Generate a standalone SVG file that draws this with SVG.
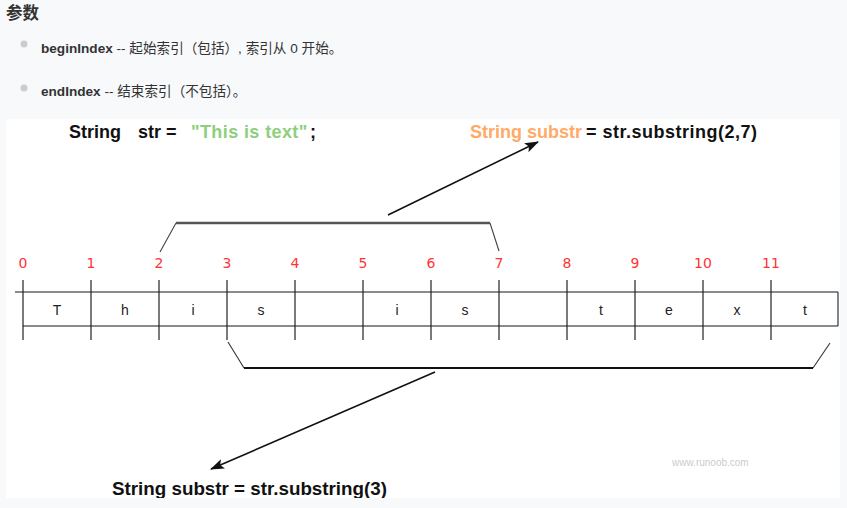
<svg xmlns="http://www.w3.org/2000/svg" width="847" height="508" viewBox="0 0 847 508">
<defs>
<style>
.pg{font-family:"Liberation Sans","Noto Sans CJK SC",sans-serif;fill:#333}
.code{font-family:"Liberation Sans",Arial,sans-serif;font-weight:bold;font-size:18px;fill:#111}
.green{fill:#8ecf7e}
.orange{fill:#ffaa66}
.idx{font-family:"DejaVu Sans","Liberation Sans",sans-serif;font-size:14px;fill:#ff3333;text-anchor:middle}
.ch{font-family:"Liberation Sans",Arial,sans-serif;font-size:14px;fill:#222;text-anchor:middle}
.tick{stroke:#222;stroke-width:1.2;fill:none}
.rail{stroke:#8a8a8a;stroke-width:2;fill:none}
.arrow{stroke:#111;stroke-width:1.6;fill:none;marker-end:url(#ah)}
</style>
<marker id="ah" markerUnits="userSpaceOnUse" markerWidth="14" markerHeight="10" refX="13" refY="5" orient="auto">
<path d="M0,0 L14,5 L0,10 L3,5 Z" fill="#111"/>
</marker>
<clipPath id="clipImg"><rect x="6" y="119" width="834" height="379"/></clipPath>
</defs>
<rect x="0" y="0" width="847" height="508" fill="#f8f9fb"/>
<g id="header">
<text class="pg" x="6" y="19" font-size="16.5" font-weight="bold">参数</text>
<circle cx="24" cy="44" r="3.5" fill="#cccccc"/>
<text class="pg" x="41" y="53" font-size="13.6"><tspan font-weight="bold">beginIndex</tspan> -- 起始索引（包括）, 索引从 0 开始。</text>
<circle cx="24" cy="88" r="3.5" fill="#cccccc"/>
<text class="pg" x="41" y="96" font-size="13.6"><tspan font-weight="bold">endIndex</tspan> -- 结束索引（不包括）。</text>
</g>
<rect x="6" y="119" width="834" height="379" fill="#ffffff"/>
<g id="diagram" clip-path="url(#clipImg)">
<g id="code-top">
<text class="code" x="69" y="138">String</text>
<text class="code" x="138" y="138">str =</text>
<text class="code green" x="191" y="138" letter-spacing="0.4">"This is text"</text>
<text class="code" x="310" y="138">;</text>
</g>
<g id="code-substr27">
<text class="code orange" x="470" y="138">String substr</text>
<text class="code" x="586" y="138" letter-spacing="0.5">= str.substring(2,7)</text>
</g>
<g id="code-substr3">
<text class="code" x="112" y="495" textLength="275" lengthAdjust="spacingAndGlyphs">String substr = str.substring(3)</text>
</g>
<g id="indices">
<text class="idx" x="23" y="268">0</text>
<text class="idx" x="91" y="268">1</text>
<text class="idx" x="159" y="268">2</text>
<text class="idx" x="227" y="268">3</text>
<text class="idx" x="295" y="268">4</text>
<text class="idx" x="363" y="268">5</text>
<text class="idx" x="431" y="268">6</text>
<text class="idx" x="499" y="268">7</text>
<text class="idx" x="567" y="268">8</text>
<text class="idx" x="635" y="268">9</text>
<text class="idx" x="703" y="268">10</text>
<text class="idx" x="771" y="268">11</text>
</g>
<g id="string-cells">
<path class="rail" d="M15,292 H838 M23,326 H838"/>
<path d="M838,292 V326" stroke="#333" stroke-width="1.2"/>
<path class="tick" d="M23,280V340 M91,280V340 M159,280V340 M227,280V340 M295,280V340 M363,280V340 M431,280V340 M499,280V340 M567,280V340 M635,280V340 M703,280V340 M771,280V340"/>
<text class="ch" x="57" y="315">T</text>
<text class="ch" x="125" y="315">h</text>
<text class="ch" x="193" y="315">i</text>
<text class="ch" x="261" y="315">s</text>
<text class="ch" x="397" y="315">i</text>
<text class="ch" x="465" y="315">s</text>
<text class="ch" x="601" y="315">t</text>
<text class="ch" x="669" y="315">e</text>
<text class="ch" x="737" y="315">x</text>
<text class="ch" x="805" y="315">t</text>
</g>
<g id="bracket-top">
<path d="M160,252 L176,223 M490,223 L499,251" stroke="#444" stroke-width="1.1" fill="none"/>
<path d="M176,223 H490" stroke="#555" stroke-width="2.4" fill="none"/>
</g>
<g id="bracket-bottom">
<path d="M228,342 L244,368 M813,368 L830,343" stroke="#333" stroke-width="1.1" fill="none"/>
<path d="M244,368 H813" stroke="#111" stroke-width="2" fill="none"/>
</g>
<g id="connectors">
<path class="arrow" d="M388,215 L538,142"/>
<path class="arrow" d="M435,372 L211,469"/>
</g>
<text id="watermark" x="672" y="466" font-family="Liberation Sans,Arial,sans-serif" font-size="10" fill="#cccccc">www.runoob.com</text>
</g>
</svg>
